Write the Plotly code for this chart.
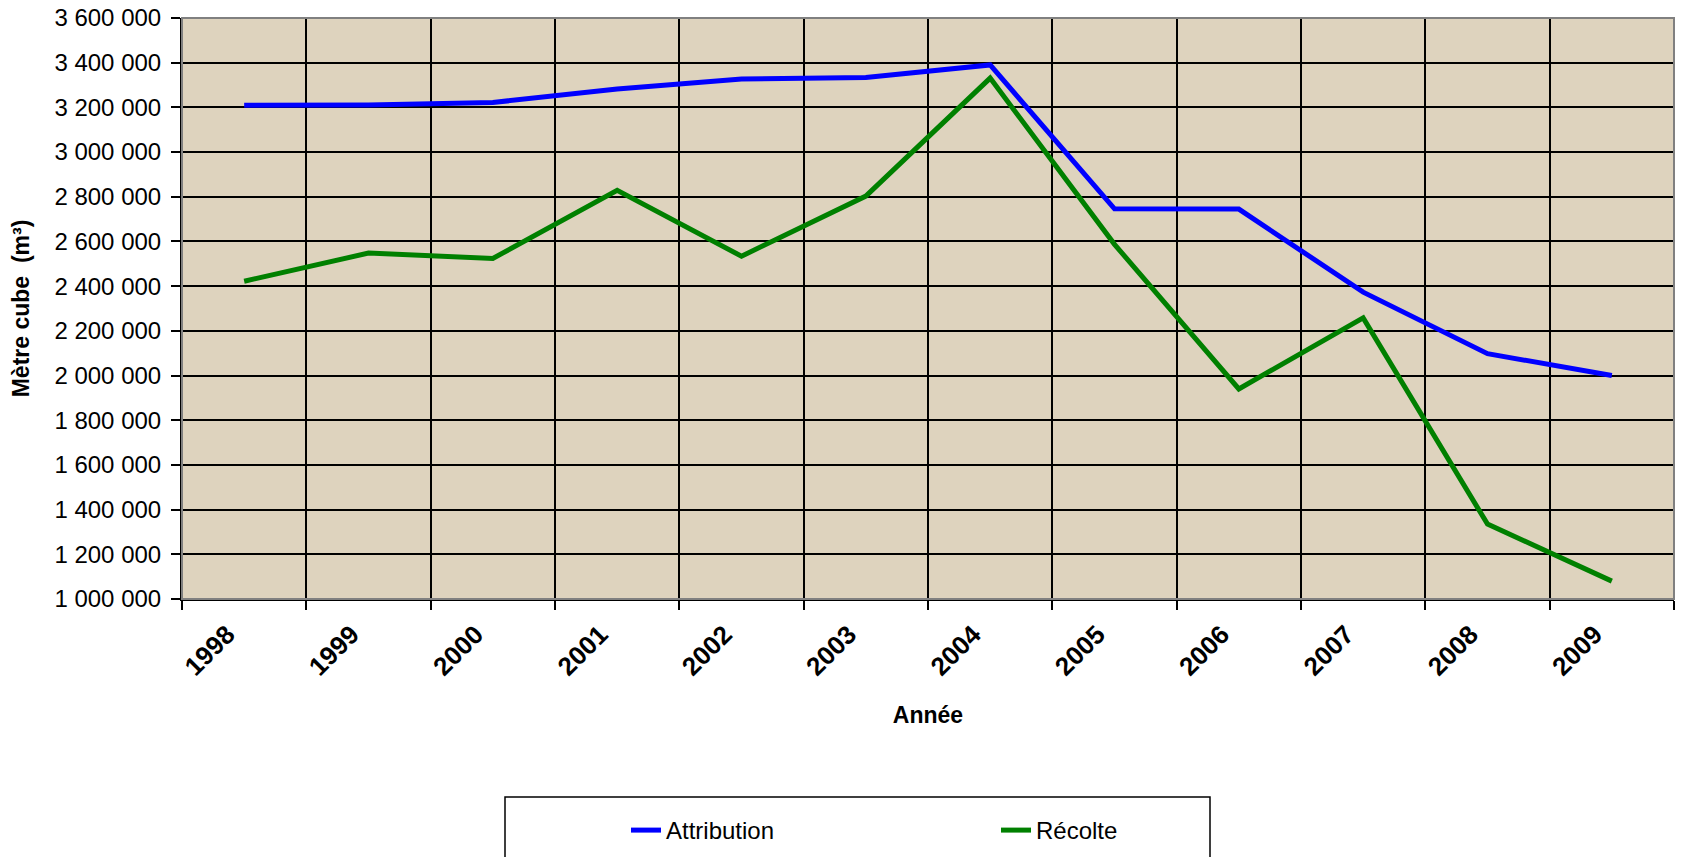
import plotly.graph_objects as go

years = ["1998", "1999", "2000", "2001", "2002", "2003", "2004", "2005", "2006", "2007", "2008", "2009"]
attribution = [3210000, 3211000, 3222000, 3282000, 3327000, 3334000, 3390000, 2746000, 2745000, 2373000, 2098000, 2000000]
recolte = [2422000, 2548000, 2524000, 2829000, 2534000, 2803000, 3331000, 2587000, 1940000, 2258000, 1335000, 1080000]

W, H = 1684, 857
L, R, T, B = 182, 10, 18, 258
pw = W - L - R
ph = H - T - B

fig = go.Figure()
fig.add_trace(go.Scatter(x=years, y=attribution, mode="lines", name="Attribution",
                         line=dict(color="#0000FF", width=5)))
fig.add_trace(go.Scatter(x=years, y=recolte, mode="lines", name="Récolte",
                         line=dict(color="#008000", width=5)))

font = "Liberation Sans, Arial, sans-serif"

# legend frame
lx0, lx1, ly0, ly1 = 505, 1210, 797, 870
fig.add_shape(type="rect", xref="paper", yref="paper",
              x0=(lx0 - L) / pw, x1=(lx1 - L) / pw,
              y0=(H - B - ly1) / ph, y1=(H - B - ly0) / ph,
              line=dict(color="black", width=1.5), fillcolor="white", layer="below")

fig.update_layout(
    width=W, height=H,
    margin=dict(l=L, r=R, t=T, b=B, pad=0, autoexpand=False),
    paper_bgcolor="white",
    plot_bgcolor="#DED3BE",
    separators=", ",
    font=dict(family=font, size=22, color="black"),
    showlegend=True,
    legend=dict(orientation="h", x=(626 - L) / pw, y=(H - B - 808) / ph,
                xanchor="left", yanchor="top", bgcolor="rgba(0,0,0,0)",
                borderwidth=0, font=dict(size=24, family=font),
                entrywidth=325, entrywidthmode="pixels"),
    xaxis=dict(type="category", tickson="boundaries", showgrid=True, gridcolor="black",
               gridwidth=2, showline=True, linecolor="black", linewidth=2,
               ticks="outside", ticklen=9, tickwidth=2, tickcolor="black",
               tickangle=-45, tickfont=dict(size=26, family=font, weight="bold"),
               ticklabelstandoff=8, ticklabelshift=-17,
               title=dict(text="<b>Année</b>", font=dict(size=23, family=font), standoff=26),
               range=[-0.5, 11.5], mirror=False),
    yaxis=dict(range=[1000000, 3600000], dtick=200000, tickformat=",d",
               showgrid=True, gridcolor="black", gridwidth=2,
               showline=True, linecolor="black", linewidth=2,
               ticks="outside", ticklen=9, tickwidth=2, tickcolor="black",
               tickfont=dict(size=24, family=font), ticklabelstandoff=5,
               title=dict(text="<b>Mètre cube\u00a0\u00a0(m³)</b>", font=dict(size=23, family=font), standoff=18),
               zeroline=False),
)
# top/right gray border
fig.add_shape(type="rect", xref="paper", yref="paper", x0=0, x1=1, y0=0, y1=1,
              line=dict(color="#808080", width=2), layer="above")

fig.write_html("out.html", config={"displayModeBar": False},
               post_script="document.body.style.margin='0';document.body.style.overflow='hidden';")
